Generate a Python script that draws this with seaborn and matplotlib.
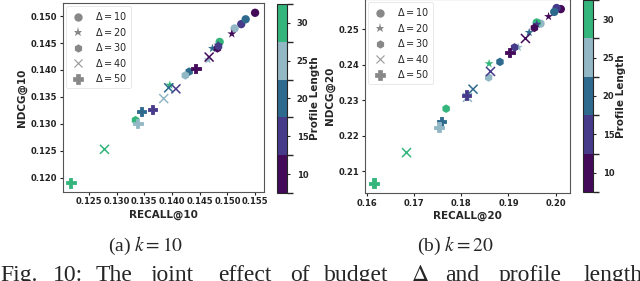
import numpy as np
import pandas as pd
import matplotlib
matplotlib.use("Agg")
import matplotlib.pyplot as plt
import seaborn as sns
from matplotlib.colors import ListedColormap, BoundaryNorm
from matplotlib.lines import Line2D

# ---- data ----
deltas = [10, 20, 30, 40, 50]
lengths = [10, 15, 20, 25, 30]

# k = 10 : recall / ndcg per delta, ordered by profile length
recall10 = {
    10: [0.1550, 0.1525, 0.1533, 0.1513, 0.1486],
    20: [0.1508, 0.1483, 0.1473, 0.1465, 0.1396],
    30: [0.1482, 0.1484, 0.1431, 0.1424, 0.1334],
    40: [0.1467, 0.1407, 0.1394, 0.1385, 0.1278],
    50: [0.1443, 0.1365, 0.1345, 0.1338, 0.1217],
}
ndcg10 = {
    10: [0.1506, 0.1485, 0.1494, 0.1477, 0.1452],
    20: [0.1467, 0.1446, 0.1440, 0.1419, 0.1372],
    30: [0.1440, 0.1444, 0.1397, 0.1390, 0.1307],
    40: [0.1424, 0.1365, 0.1367, 0.1347, 0.1253],
    50: [0.1403, 0.1327, 0.1323, 0.1301, 0.1191],
}
# k = 20
recall20 = {
    10: [0.2011, 0.2002, 0.1997, 0.1968, 0.1960],
    20: [0.1985, 0.1960, 0.1944, 0.1921, 0.1859],
    30: [0.1955, 0.1913, 0.1882, 0.1858, 0.1768],
    40: [0.1936, 0.1862, 0.1825, 0.1813, 0.1684],
    50: [0.1903, 0.1811, 0.1758, 0.1753, 0.1615],
}
ndcg20 = {
    10: [0.2557, 0.2560, 0.2549, 0.2516, 0.2519],
    20: [0.2536, 0.2514, 0.2491, 0.2449, 0.2403],
    30: [0.2504, 0.2449, 0.2408, 0.2364, 0.2276],
    40: [0.2474, 0.2381, 0.2331, 0.2308, 0.2152],
    50: [0.2434, 0.2314, 0.2240, 0.2224, 0.2066],
}

caption_words = ["Fig.", "10:", "The", "joint", "effect", "of", "budget",
                 r"$\Delta$", "and", "profile", "length"]

colors = ["#440a5a", "#463a8a", "#2e6a8e", "#93b8c5", "#33b57b"]
marker_map = {10: "o", 20: "*", 30: "h", 40: "x", 50: "P"}
size_map = {10: 36, 20: 45, 30: 38, 40: 42, 50: 48}


def make_df(rec, nd):
    rows = []
    for d in deltas:
        for L, r, n in zip(lengths, rec[d], nd[d]):
            rows.append(dict(delta=d, length=L, recall=r, ndcg=n))
    return pd.DataFrame(rows)


sns.set_theme(style="white")
plt.rcParams["font.family"] = ["DejaVu Sans"]

fig = plt.figure(figsize=(6.4, 2.81), dpi=100)

cmap = ListedColormap(colors)
norm = BoundaryNorm([7.5, 12.5, 17.5, 22.5, 27.5, 32.5], cmap.N)
palette = {L: c for L, c in zip(lengths, colors)}

panels = [
    dict(rec=recall10, nd=ndcg10, pos=[0.0984, 0.317, 0.314, 0.672],
         cpos=[0.433, 0.313, 0.0156, 0.673],
         xlim=(0.1203, 0.1566), ylim=(0.1174, 0.1524),
         xticks=[0.125, 0.130, 0.135, 0.140, 0.145, 0.150, 0.155],
         yticks=[0.120, 0.125, 0.130, 0.135, 0.140, 0.145, 0.150],
         xfmt="{:.3f}", yfmt="{:.3f}",
         xlabel="RECALL@10", ylabel="NDCG@10", cap="(a) $k=10$", capx=0.227),
    dict(rec=recall20, nd=ndcg20, pos=[0.5703, 0.313, 0.320, 0.69],
         cpos=[0.911, 0.317, 0.0156, 0.683],
         xlim=(0.1596, 0.2030), ylim=(0.2038, 0.2585),
         xticks=[0.16, 0.17, 0.18, 0.19, 0.20],
         yticks=[0.21, 0.22, 0.23, 0.24, 0.25],
         xfmt="{:.2f}", yfmt="{:.2f}",
         xlabel="RECALL@20", ylabel="NDCG@20", cap="(b) $k=20$", capx=0.711),
]

for p in panels:
    ax = fig.add_axes(p["pos"])
    df = make_df(p["rec"], p["nd"])
    for d in deltas:
        sub = df[df["delta"] == d]
        if d == 40:
            kw = dict(linewidth=1.1)
        elif d == 50:
            kw = dict(linewidth=0.6, edgecolor="face")
        else:
            kw = dict(linewidth=0)
        sns.scatterplot(data=sub, x="recall", y="ndcg", hue="length",
                        palette=palette, marker=marker_map[d],
                        s=size_map[d], ax=ax, legend=False, **kw)
    ax.set_xlim(*p["xlim"])
    ax.set_ylim(*p["ylim"])
    ax.set_xticks(p["xticks"])
    ax.set_xticklabels([p["xfmt"].format(v) for v in p["xticks"]])
    ax.set_yticks(p["yticks"])
    ax.set_yticklabels([p["yfmt"].format(v) for v in p["yticks"]])
    ax.tick_params(axis="both", labelsize=6, length=2, width=0.8, pad=2,
                   bottom=True, left=True, colors="#222222")
    for lab in ax.get_xticklabels() + ax.get_yticklabels():
        lab.set_fontweight("bold")
    ax.set_xlabel(p["xlabel"], fontsize=7.5, fontweight="bold", labelpad=2)
    ax.set_ylabel(p["ylabel"], fontsize=7.5, fontweight="bold", labelpad=3)
    for s in ax.spines.values():
        s.set_color("#555555")
        s.set_linewidth(0.8)

    handles = []
    for d in deltas:
        if d == 40:
            h = Line2D([], [], linestyle="none", marker="x", color="#999999",
                       markersize=6, markeredgewidth=0.8)
        elif d == 50:
            h = Line2D([], [], linestyle="none", marker="P", color="#888888",
                       markersize=6.5, markeredgewidth=0.5)
        else:
            h = Line2D([], [], linestyle="none", marker=marker_map[d],
                       color="#888888", markersize=6 if d != 20 else 6.5,
                       markeredgewidth=0)
        h.set_label(r"$\Delta=%d$" % d)
        handles.append(h)
    leg = ax.legend(handles=handles, loc="upper left", fontsize=7,
                    frameon=True, handletextpad=0.9, labelspacing=0.35,
                    borderpad=0.45, borderaxespad=0.3, handlelength=1.6)
    leg.get_frame().set_edgecolor("#dddddd")
    leg.get_frame().set_linewidth(0.6)

    cax = fig.add_axes(p["cpos"])
    sm = matplotlib.cm.ScalarMappable(cmap=cmap, norm=norm)
    cb = fig.colorbar(sm, cax=cax, ticks=[10, 15, 20, 25, 30])
    cb.ax.tick_params(labelsize=6, length=2, width=0.8, pad=5)
    for lab in cb.ax.get_yticklabels():
        lab.set_fontweight("bold")
    cb.set_label("Profile Length", fontsize=7.5, fontweight="bold", labelpad=1)
    cb.outline.set_linewidth(0.8)

    fig.text(p["capx"], 1 - 246 / 281, p["cap"], ha="center", va="center",
             fontsize=14, family=["Liberation Serif"], math_fontfamily="stix")

# figure caption, justified words running past the bottom/right edge
word_x = [0, 53, 96, 151, 218, 290, 324, 411, 445, 499, 583]
for w, x in zip(caption_words, word_x):
    fig.text(x / 640, 1 - 281 / 281, w, ha="left", va="baseline",
             fontsize=17, family=["Liberation Serif"], math_fontfamily="stix")

fig.savefig("out.png", dpi=100)
